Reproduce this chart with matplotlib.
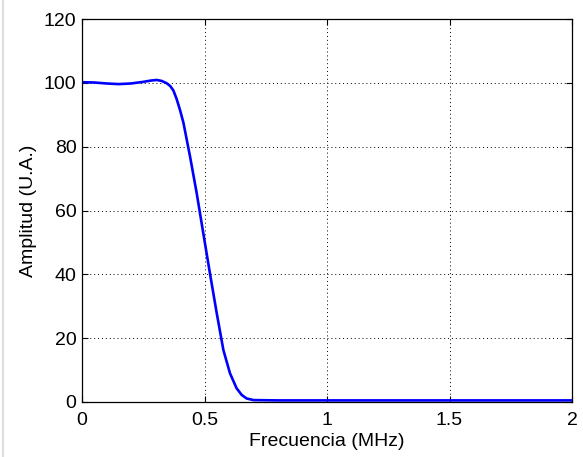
import numpy as np
import matplotlib
matplotlib.use("Agg")
import matplotlib.pyplot as plt
from matplotlib.lines import Line2D

# values
freq = [0, 0.05, 0.1, 0.15, 0.2, 0.25, 0.28, 0.305, 0.325, 0.345, 0.36, 0.373, 0.386,
        0.40, 0.414, 0.441, 0.468, 0.495, 0.522, 0.55, 0.577, 0.604, 0.631, 0.652,
        0.672, 0.70, 0.8, 1.0, 1.5, 2.0]
amp = [100.2, 100.1, 99.8, 99.6, 99.8, 100.3, 100.7, 100.9, 100.6, 99.9, 99.0, 97.6, 95.0,
       91.5, 87.5, 76.9, 65.5, 52.9, 40.4, 27.8, 16.3, 9.0, 4.3, 2.2,
       1.1, 0.6, 0.5, 0.5, 0.5, 0.5]

xticks = [0, 0.5, 1, 1.5, 2]
xticklabels = ["0", "0.5", "1", "1.5", "2"]
yticks = [0, 20, 40, 60, 80, 100, 120]

plt.rcParams['font.family'] = ['Liberation Sans', 'DejaVu Sans']

fig = plt.figure(figsize=(5.83, 4.57), dpi=100)
ax = fig.add_axes([82/583, 1 - 402/457, (572-82)/583, (402-19)/457])

ax.plot(freq, amp, color="#0000ff", lw=1.9)

ax.set_xlim(0, 2)
ax.set_ylim(0, 120)
ax.set_xticks(xticks)
ax.set_xticklabels(xticklabels)
ax.set_yticks(yticks)
ax.grid(True, color="black", linestyle=(0, (1, 3)), lw=0.7)
ax.tick_params(direction="in", top=True, right=True, labelsize=14, length=4)
ax.tick_params(axis="x", pad=7)
ax.tick_params(axis="y", pad=4)
for s in ax.spines.values():
    s.set_linewidth(0.9)
ax.set_xlabel("Frecuencia (MHz)", fontsize=14, labelpad=3)
ax.set_ylabel("Amplitud (U.A.)", fontsize=14, labelpad=5)

fig.add_artist(Line2D([2.5/583, 2.5/583], [0, 1], color="#dddddd", lw=1.5))

fig.savefig("out.png", dpi=100)
